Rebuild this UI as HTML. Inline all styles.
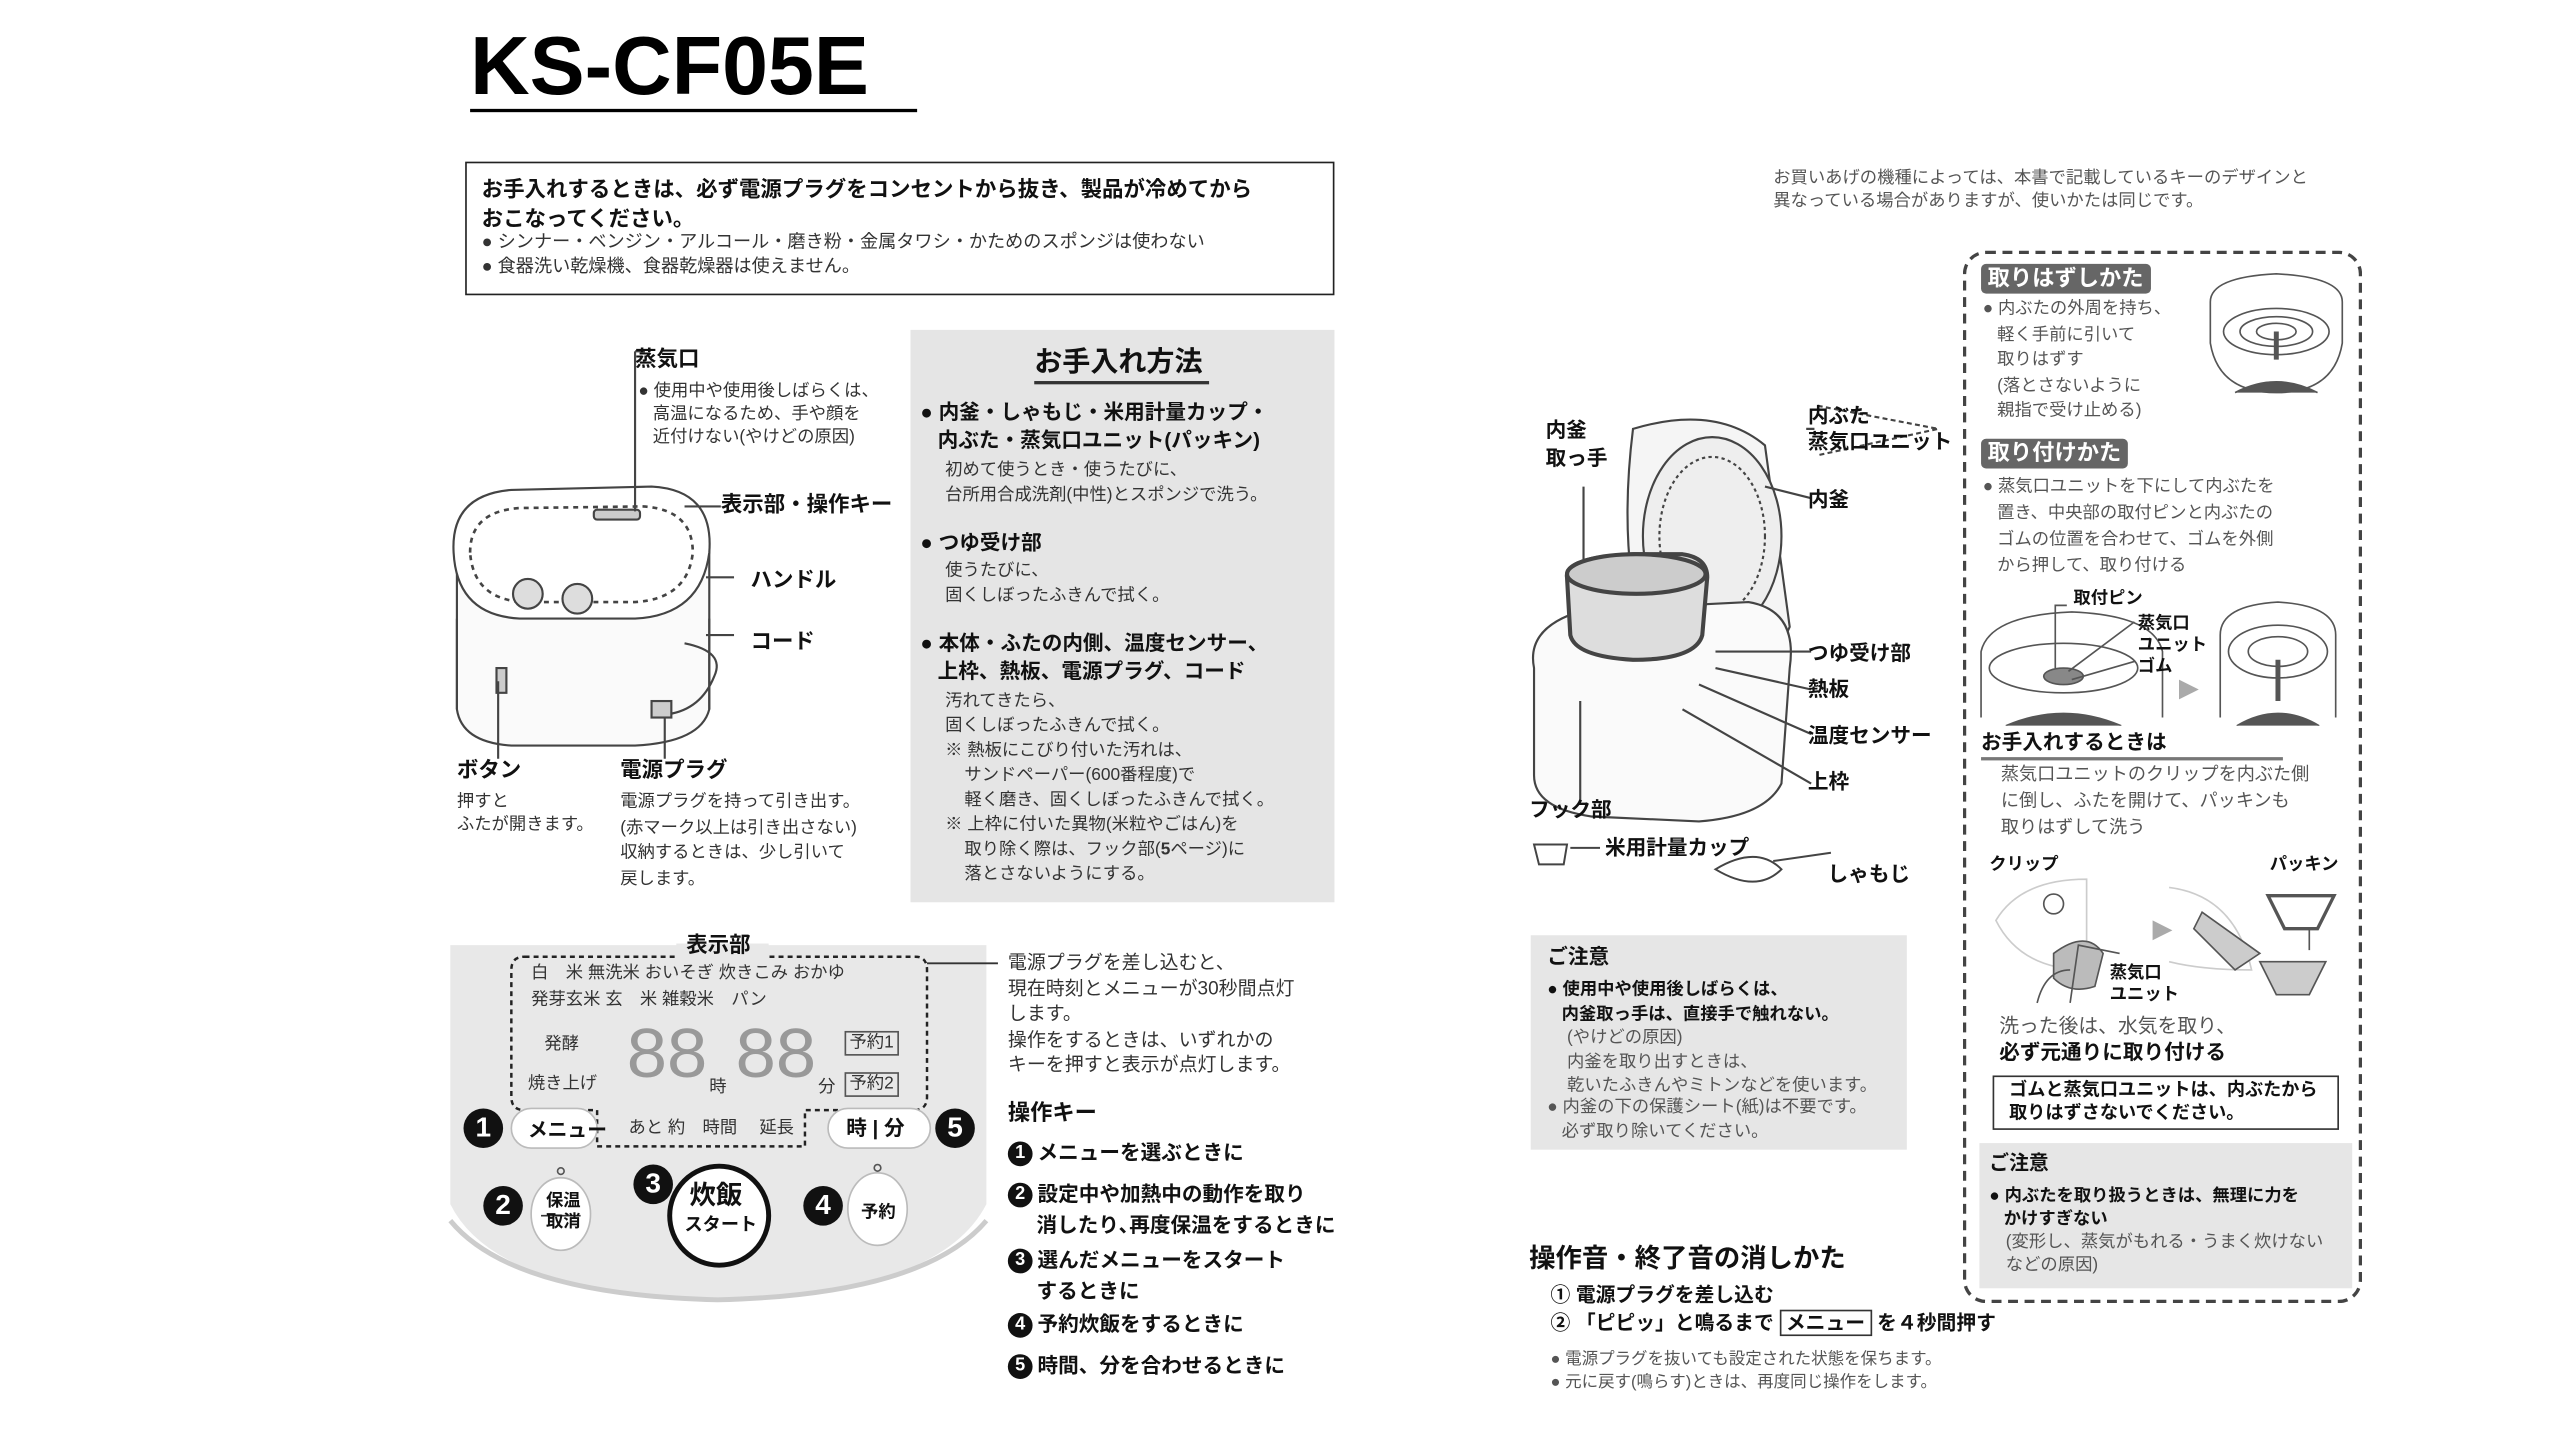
<!DOCTYPE html>
<html><head><meta charset="utf-8">
<style>
html,body{margin:0;padding:0;background:#fff;}
body{width:2560px;height:1440px;overflow:hidden;}
#c{position:absolute;left:0;top:0;width:1552px;height:873px;transform:scale(1.6495);transform-origin:0 0;font-family:"Liberation Sans","Noto Sans CJK JP",sans-serif;color:#333;}
.t{position:absolute;white-space:nowrap;font-size:11.5px;line-height:16px;}
.b{font-weight:bold;color:#111;}
.g{color:#555;}
.s{font-size:10.5px;line-height:14px;}
.num{display:inline-block;width:15px;height:15px;border-radius:50%;background:#111;color:#fff;font-size:11px;line-height:15px;text-align:center;font-weight:bold;margin-right:3px;vertical-align:middle;}
.bignum{position:absolute;width:24px;height:24px;border-radius:50%;background:#111;color:#fff;font-size:17px;line-height:24px;text-align:center;font-weight:bold;}
.hdr{position:absolute;background:#666;color:#fff;font-weight:bold;font-size:13.5px;line-height:18px;padding:0 4px;border-radius:3px;white-space:nowrap;}
</style></head><body><div id="c">

<!-- Title -->
<div class="t b" style="left:285px;top:10px;font-size:50px;line-height:60px;color:#000;">KS-CF05E</div>
<div style="position:absolute;left:285px;top:66px;width:271px;height:2px;background:#000"></div>

<!-- warning box -->
<div style="position:absolute;left:282px;top:98px;width:525px;height:79px;border:1.5px solid #222;"></div>
<div class="t b" style="left:292px;top:106px;font-size:13px;line-height:18px;">お手入れするときは、必ず電源プラグをコンセントから抜き、製品が冷めてから<br>おこなってください。</div>
<div class="t" style="left:292px;top:140px;font-size:11px;line-height:15px;">● シンナー・ベンジン・アルコール・磨き粉・金属タワシ・かためのスポンジは使わない<br>● 食器洗い乾燥機、食器乾燥器は使えません。</div>

<!-- left cooker diagram -->
<svg style="position:absolute;left:265px;top:205px" width="180" height="260" viewBox="0 0 180 260">
 <g fill="none" stroke="#444" stroke-width="1.3">
  <path d="M12 140 Q10 100 40 95 L140 93 Q165 95 165 130 L165 225 Q160 245 120 247 L45 247 Q15 245 12 225 Z" fill="#fafafa"/>
  <path d="M10 130 Q8 95 45 92 L130 90 Q168 92 165 130 Q160 168 120 170 L50 170 Q12 168 10 130 Z" fill="#fff"/>
  <path d="M20 130 Q20 105 50 103 L125 102 Q155 104 155 130 Q152 158 120 160 L52 160 Q22 158 20 130Z" stroke-dasharray="3 3" stroke-width="1.6"/>
  <rect x="95" y="104" width="28" height="6" rx="2" fill="#ccc"/>
  <circle cx="55" cy="155" r="9" fill="#ddd"/><circle cx="85" cy="158" r="9" fill="#ddd"/>
  <path d="M12 170 L12 225 M165 170 L165 225"/>
  <path d="M36 200 L42 200 L42 215 L36 215Z" fill="#ccc"/>
  <path d="M150 185 Q175 190 168 205 Q160 225 140 228"/>
  <rect x="130" y="220" width="12" height="10" fill="#ccc"/>
  <path d="M120 8 L120 105"/><path d="M120 8 L126 8"/>
  <path d="M150 102 L172 102"/>
  <path d="M163 145 L188 145"/><path d="M163 180 L188 180"/>
  <path d="M37 208 L37 255"/><path d="M138 230 L138 255"/>
 </g>
</svg>
<div class="t b" style="left:385px;top:210px;font-size:13px;">蒸気口</div>
<div class="t s" style="left:387px;top:230px;">● 使用中や使用後しばらくは、<br>&nbsp;&nbsp;&nbsp;高温になるため、手や顔を<br>&nbsp;&nbsp;&nbsp;近付けない(やけどの原因)</div>
<div class="t b" style="left:437px;top:298px;font-size:13px;">表示部・操作キー</div>
<div class="t b" style="left:455px;top:344px;font-size:13px;">ハンドル</div>
<div class="t b" style="left:455px;top:381px;font-size:13px;">コード</div>
<div class="t b" style="left:277px;top:459px;font-size:13px;">ボタン</div>
<div class="t s" style="left:277px;top:479px;">押すと<br>ふたが開きます。</div>
<div class="t b" style="left:376px;top:459px;font-size:13px;">電源プラグ</div>
<div class="t s" style="left:376px;top:479px;line-height:15.5px;">電源プラグを持って引き出す。<br>(赤マーク以上は引き出さない)<br>収納するときは、少し引いて<br>戻します。</div>

<!-- gray care panel -->
<div style="position:absolute;left:552px;top:200px;width:257px;height:347px;background:#e5e5e5;"></div>
<div class="t b" style="left:627px;top:208px;font-size:17px;line-height:24px;">お手入れ方法</div>
<div style="position:absolute;left:627px;top:231px;width:106px;height:1.5px;background:#333"></div>
<div class="t b" style="left:558px;top:242px;font-size:12.5px;line-height:17px;">● 内釜・しゃもじ・米用計量カップ・<br>&nbsp;&nbsp;&nbsp;内ぶた・蒸気口ユニット(パッキン)</div>
<div class="t s" style="left:573px;top:278px;line-height:15px;">初めて使うとき・使うたびに、<br>台所用合成洗剤(中性)とスポンジで洗う。</div>
<div class="t b" style="left:558px;top:321px;font-size:12.5px;">● つゆ受け部</div>
<div class="t s" style="left:573px;top:339px;line-height:15px;">使うたびに、<br>固くしぼったふきんで拭く。</div>
<div class="t b" style="left:558px;top:382px;font-size:12.5px;line-height:17px;">● 本体・ふたの内側、温度センサー、<br>&nbsp;&nbsp;&nbsp;上枠、熱板、電源プラグ、コード</div>
<div class="t s" style="left:573px;top:418px;line-height:15px;">汚れてきたら、<br>固くしぼったふきんで拭く。<br>※ 熱板にこびり付いた汚れは、<br>&nbsp;&nbsp;&nbsp;&nbsp;サンドペーパー(600番程度)で<br>&nbsp;&nbsp;&nbsp;&nbsp;軽く磨き、固くしぼったふきんで拭く。<br>※ 上枠に付いた異物(米粒やごはん)を<br>&nbsp;&nbsp;&nbsp;&nbsp;取り除く際は、フック部(<b>5</b>ページ)に<br>&nbsp;&nbsp;&nbsp;&nbsp;落とさないようにする。</div>

<!-- control panel -->
<svg style="position:absolute;left:270px;top:570px" width="335" height="225" viewBox="0 0 335 225">
 <path d="M3 3 L328 3 L328 160 Q300 215 165 218 Q30 215 3 160 Z" fill="#e8e8e8"/>
 <path d="M3 170 Q40 215 165 218 Q290 215 328 170" fill="none" stroke="#ccc" stroke-width="3"/>
 <g fill="none" stroke="#222" stroke-width="1.5" stroke-dasharray="3 2.5">
  <path d="M48 10 L285 10 Q292 10 292 18 L292 95 Q292 103 284 103 L218 103 L218 125 L92 125 L92 103 L48 103 Q40 103 40 95 L40 18 Q40 10 48 10Z"/>
 </g>
 <rect x="140" y="2" width="56" height="14" fill="#e8e8e8"/>
 <path d="M292 14 L340 14" stroke="#333" stroke-width="1.2"/>
 <rect x="40" y="102" width="52" height="24" rx="12" fill="#fff" stroke="#bbb"/>
 <rect x="232" y="102" width="62" height="24" rx="12" fill="#fff" stroke="#bbb"/>
 <ellipse cx="70" cy="166" rx="18" ry="22" fill="#fff" stroke="#bbb"/>
 <ellipse cx="262" cy="163" rx="18" ry="22" fill="#fff" stroke="#bbb"/>
 <circle cx="70" cy="140" r="2" fill="none" stroke="#555"/><circle cx="262" cy="138" r="2" fill="none" stroke="#555"/>
 <circle cx="166" cy="167" r="30" fill="#fff" stroke="#111" stroke-width="3"/>
 <line x1="58" y1="167" x2="82" y2="167" stroke="#333"/>
</svg>
<div class="t b" style="left:416px;top:565px;font-size:13px;">表示部</div>
<div class="t s" style="left:322px;top:583px;font-size:10.5px;">白　米 無洗米 おいそぎ 炊きこみ おかゆ</div>
<div class="t s" style="left:322px;top:599px;font-size:10.5px;">発芽玄米 玄　米 雑穀米　パン</div>
<div class="t s" style="left:330px;top:626px;">発酵</div>
<div class="t s" style="left:320px;top:650px;">焼き上げ</div>
<div class="t" style="left:379px;top:618px;font-size:44px;line-height:48px;color:#999;font-family:'Liberation Mono',monospace;letter-spacing:-2px;">88</div>
<div class="t s" style="left:430px;top:652px;">時</div>
<div class="t" style="left:445px;top:618px;font-size:44px;line-height:48px;color:#999;font-family:'Liberation Mono',monospace;letter-spacing:-2px;">88</div>
<div class="t s" style="left:496px;top:652px;">分</div>
<div class="t s" style="left:512px;top:625px;border:1px solid #555;padding:0 2px;line-height:13px;">予約1</div>
<div class="t s" style="left:512px;top:650px;border:1px solid #555;padding:0 2px;line-height:13px;">予約2</div>
<div class="bignum" style="left:281px;top:672px;">1</div>
<div class="t b" style="left:320px;top:677px;font-size:12px;">メニュー</div>
<div class="t s" style="left:381px;top:677px;">あと 約　時間　 延長</div>
<div class="t b" style="left:513px;top:676px;font-size:12.5px;">時 | 分</div>
<div class="bignum" style="left:567px;top:672px;">5</div>
<div class="bignum" style="left:293px;top:719px;">2</div>
<div class="t b" style="left:331px;top:722px;font-size:10.5px;line-height:13px;">保温<br>取消</div>
<div class="bignum" style="left:384px;top:706px;">3</div>
<div class="t b" style="left:418px;top:717px;font-size:16px;line-height:18px;">炊飯</div>
<div class="t b" style="left:415px;top:735px;font-size:11px;">スタート</div>
<div class="bignum" style="left:487px;top:719px;">4</div>
<div class="t b" style="left:522px;top:727px;font-size:10.5px;">予約</div>

<div class="t" style="left:611px;top:577px;font-size:11.5px;line-height:15.5px;">電源プラグを差し込むと、<br>現在時刻とメニューが30秒間点灯<br>します。<br>操作をするときは、いずれかの<br>キーを押すと表示が点灯します。</div>
<div class="t b" style="left:611px;top:667px;font-size:13.5px;">操作キー</div>
<div class="t b" style="left:611px;top:690px;font-size:12.5px;line-height:18px;"><span class="num">1</span>メニューを選ぶときに</div>
<div class="t b" style="left:611px;top:715px;font-size:12.5px;line-height:19px;"><span class="num">2</span>設定中や加熱中の動作を取り<br>&nbsp;&nbsp;&nbsp;&nbsp;&nbsp;消したり､再度保温をするときに</div>
<div class="t b" style="left:611px;top:755px;font-size:12.5px;line-height:19px;"><span class="num">3</span>選んだメニューをスタート<br>&nbsp;&nbsp;&nbsp;&nbsp;&nbsp;するときに</div>
<div class="t b" style="left:611px;top:794px;font-size:12.5px;line-height:18px;"><span class="num">4</span>予約炊飯をするときに</div>
<div class="t b" style="left:611px;top:819px;font-size:12.5px;line-height:18px;"><span class="num">5</span>時間、分を合わせるときに</div>

<!-- right: top note -->
<div class="t g" style="left:1075px;top:101px;font-size:10.5px;line-height:14px;">お買いあげの機種によっては、本書で記載しているキーのデザインと<br>異なっている場合がありますが、使いかたは同じです。</div>

<!-- center cooker diagram -->
<svg style="position:absolute;left:920px;top:240px" width="280" height="310" viewBox="0 0 280 310">
 <g fill="none" stroke="#444" stroke-width="1.3">
  <path d="M70 20 Q120 5 150 30 L165 140 Q150 175 110 170 L80 160 Q60 100 70 20Z" fill="#f5f5f5"/>
  <ellipse cx="118" cy="85" rx="42" ry="60" fill="#eee"/>
  <ellipse cx="118" cy="85" rx="32" ry="48" stroke-dasharray="2 2"/>
  <path d="M10 165 Q5 140 40 130 L140 125 Q170 130 165 165 L160 235 Q150 255 110 258 L45 255 Q10 250 10 230Z" fill="#fafafa"/>
  <path d="M30 110 Q28 98 70 96 L100 96 Q115 98 115 110 L112 145 Q108 160 70 160 Q35 158 32 145Z" fill="#ddd" stroke-width="2.5"/>
  <ellipse cx="72" cy="108" rx="42" ry="12" fill="#ccc" stroke-width="2.5"/>
  <path d="M175 20 L180 20 M150 55 L178 62 M40 55 L40 100 M120 155 L178 155 M120 165 L178 178 M110 175 L178 205 M100 190 L178 235 M38 185 L38 245"/>
  <path d="M182 6 L255 20 L182 36" stroke-dasharray="3 2"/>
 </g>
 <g transform="translate(10,272)" fill="none" stroke="#444" stroke-width="1.2">
  <path d="M0 0 L20 0 L18 12 L3 12Z"/><path d="M22 2 L40 2"/>
  <path d="M110 15 Q135 0 150 15 Q135 30 110 15Z"/><path d="M145 10 L180 5"/>
 </g>
</svg>
<div class="t b" style="left:937px;top:253px;font-size:12.5px;line-height:17px;">内釜<br>取っ手</div>
<div class="t b" style="left:1096px;top:244px;font-size:12.5px;line-height:16px;">内ぶた<br>蒸気口ユニット</div>
<div class="t b" style="left:1096px;top:295px;font-size:12.5px;">内釜</div>
<div class="t b" style="left:1096px;top:388px;font-size:12.5px;">つゆ受け部</div>
<div class="t b" style="left:1096px;top:410px;font-size:12.5px;">熱板</div>
<div class="t b" style="left:1096px;top:438px;font-size:12.5px;">温度センサー</div>
<div class="t b" style="left:1096px;top:466px;font-size:12.5px;">上枠</div>
<div class="t b" style="left:927px;top:483px;font-size:12.5px;">フック部</div>
<div class="t b" style="left:973px;top:506px;font-size:12.5px;">米用計量カップ</div>
<div class="t b" style="left:1108px;top:522px;font-size:12.5px;">しゃもじ</div>

<!-- caution box -->
<div style="position:absolute;left:928px;top:567px;width:228px;height:130px;background:#e6e6e6;"></div>
<div class="t b" style="left:938px;top:572px;font-size:12.5px;">ご注意</div>
<div class="t b s" style="left:938px;top:593px;line-height:14.5px;">● 使用中や使用後しばらくは、<br>&nbsp;&nbsp;&nbsp;内釜取っ手は、直接手で触れない。</div>
<div class="t s g" style="left:950px;top:622px;line-height:14.5px;">(やけどの原因)<br>内釜を取り出すときは、<br>乾いたふきんやミトンなどを使います。</div>
<div class="t s g" style="left:938px;top:664px;line-height:14.5px;">● 内釜の下の保護シート(紙)は不要です。<br>&nbsp;&nbsp;&nbsp;必ず取り除いてください。</div>

<!-- sound -->
<div class="t b" style="left:927px;top:754px;font-size:16px;line-height:20px;">操作音・終了音の消しかた</div>
<div class="t b" style="left:940px;top:777px;font-size:12px;line-height:17px;">① 電源プラグを差し込む<br>② 「ピピッ」と鳴るまで <span style="border:1px solid #333;padding:0 3px;">メニュー</span> を４秒間押す</div>
<div class="t s g" style="left:940px;top:818px;font-size:10px;line-height:14px;">● 電源プラグを抜いても設定された状態を保ちます。<br>● 元に戻す(鳴らす)ときは、再度同じ操作をします。</div>

<!-- dashed box -->
<div style="position:absolute;left:1190px;top:152px;width:238px;height:634px;border:2px dashed #444;border-radius:14px;"></div>
<div class="hdr" style="left:1201px;top:160px;">取りはずしかた</div>
<div class="t s g" style="left:1202px;top:180px;line-height:15.5px;">● 内ぶたの外周を持ち、<br>&nbsp;&nbsp;&nbsp;軽く手前に引いて<br>&nbsp;&nbsp;&nbsp;取りはずす<br>&nbsp;&nbsp;&nbsp;(落とさないように<br>&nbsp;&nbsp;&nbsp;親指で受け止める)</div>
<svg style="position:absolute;left:1335px;top:163px" width="90" height="80" viewBox="0 0 90 80">
 <g fill="none" stroke="#555" stroke-width="1">
  <path d="M5 20 Q5 5 45 3 Q85 5 85 20 L85 45 Q80 75 45 75 Q10 75 5 45Z"/>
  <ellipse cx="45" cy="38" rx="32" ry="14"/><ellipse cx="45" cy="38" rx="22" ry="9"/><ellipse cx="45" cy="38" rx="12" ry="5"/>
  <path d="M45 38 L45 55" stroke-width="3"/>
  <path d="M20 75 Q45 62 70 75" fill="#555"/>
 </g>
</svg>
<div class="hdr" style="left:1201px;top:266px;">取り付けかた</div>
<div class="t s g" style="left:1202px;top:287px;line-height:16px;">● 蒸気口ユニットを下にして内ぶたを<br>&nbsp;&nbsp;&nbsp;置き、中央部の取付ピンと内ぶたの<br>&nbsp;&nbsp;&nbsp;ゴムの位置を合わせて、ゴムを外側<br>&nbsp;&nbsp;&nbsp;から押して、取り付ける</div>
<svg style="position:absolute;left:1196px;top:355px" width="230" height="85" viewBox="0 0 230 85">
 <g fill="none" stroke="#555" stroke-width="1">
  <path d="M5 40 Q10 18 60 16 Q110 18 115 40 L115 80 M5 40 L5 80"/>
  <ellipse cx="55" cy="50" rx="45" ry="15"/>
  <ellipse cx="55" cy="55" rx="12" ry="5" fill="#888"/>
  <path d="M20 85 Q55 70 90 85" fill="#555"/>
  <path d="M150 30 Q150 12 185 10 Q220 12 220 30 L220 80 M150 30 L150 80"/>
  <ellipse cx="185" cy="40" rx="30" ry="16"/><ellipse cx="185" cy="40" rx="18" ry="9"/>
  <path d="M185 45 L185 70" stroke-width="3"/>
  <path d="M160 85 Q185 70 210 85" fill="#555"/>
  <path d="M50 50 L50 12 L57 12 M58 52 L98 22 M60 57 L98 46"/>
 </g>
 <path d="M125 57 L137 63 L125 69Z" fill="#aaa"/>
</svg>
<div class="t b" style="left:1257px;top:357px;font-size:10.5px;line-height:13px;">取付ピン</div>
<div class="t b" style="left:1296px;top:372px;font-size:10.5px;line-height:13px;">蒸気口<br>ユニット<br>ゴム</div>
<div class="t b" style="left:1201px;top:442px;font-size:12.5px;">お手入れするときは</div>
<div style="position:absolute;left:1201px;top:459px;width:183px;height:1.5px;background:#777"></div>
<div class="t s g" style="left:1213px;top:462px;line-height:16px;font-size:11px;">蒸気口ユニットのクリップを内ぶた側<br>に倒し、ふたを開けて、パッキンも<br>取りはずして洗う</div>
<div class="t b" style="left:1206px;top:516px;font-size:10.5px;">クリップ</div>
<div class="t b" style="left:1376px;top:516px;font-size:10.5px;">パッキン</div>
<svg style="position:absolute;left:1205px;top:528px" width="220" height="85" viewBox="0 0 220 85">
 <g fill="none" stroke="#555" stroke-width="1">
  <path d="M5 30 Q20 5 60 5 L60 60 Q20 60 5 30Z" stroke="#ccc"/>
  <circle cx="40" cy="20" r="6"/>
  <path d="M40 50 Q60 35 70 50 L65 70 Q50 75 40 65Z" fill="#bbb"/>
  <path d="M50 80 L55 45 L80 50 M30 80 Q35 60 50 60"/>
  <path d="M110 10 Q150 15 160 60 Q130 60 110 55" stroke="#ccc"/>
  <path d="M130 25 L165 50 L150 60 L125 35Z" fill="#ccc"/>
  <path d="M165 55 L205 55 L195 75 L175 75Z" fill="#ccc"/>
  <path d="M170 15 L210 15 L200 35 L180 35Z" stroke-width="2"/>
  <path d="M195 48 L195 35"/>
 </g>
 <path d="M100 30 L112 36 L100 42Z" fill="#aaa"/>
</svg>
<div class="t b" style="left:1279px;top:584px;font-size:10.5px;line-height:13px;">蒸気口<br>ユニット</div>
<div class="t g" style="left:1212px;top:614px;font-size:12px;line-height:16px;">洗った後は、水気を取り、</div>
<div class="t b" style="left:1212px;top:630px;font-size:12.5px;line-height:17px;">必ず元通りに取り付ける</div>
<div style="position:absolute;left:1208px;top:652px;width:208px;height:31px;border:1.2px solid #333;"></div>
<div class="t b" style="left:1218px;top:654px;font-size:11px;line-height:14px;">ゴムと蒸気口ユニットは、内ぶたから<br>取りはずさないでください。</div>
<div style="position:absolute;left:1200px;top:693px;width:226px;height:88px;background:#e6e6e6;"></div>
<div class="t b" style="left:1206px;top:697px;font-size:12px;">ご注意</div>
<div class="t b s" style="left:1206px;top:718px;line-height:14px;">● 内ぶたを取り扱うときは、無理に力を<br>&nbsp;&nbsp;&nbsp;かけすぎない</div>
<div class="t s g" style="left:1216px;top:746px;line-height:14px;">(変形し、蒸気がもれる・うまく炊けない<br>などの原因)</div>

</div></body></html>
